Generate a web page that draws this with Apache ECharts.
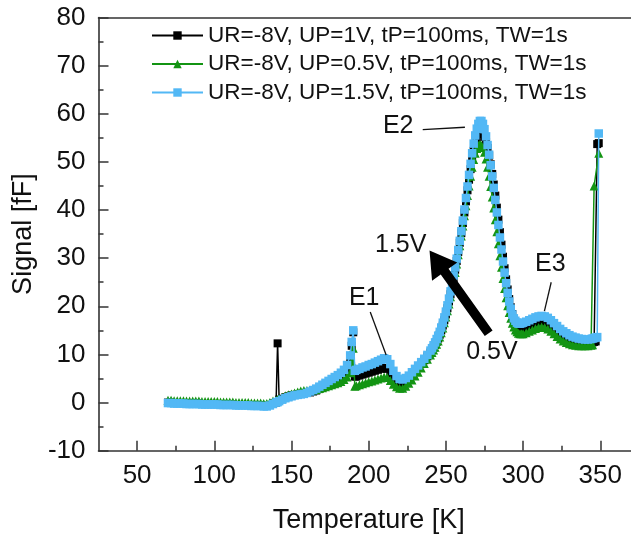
<!DOCTYPE html>
<html>
<head>
<meta charset="utf-8">
<title>DLTS signal vs temperature</title>
<script src="https://cdn.jsdelivr.net/npm/echarts@6/dist/echarts.min.js"></script>
<style>
  html, body { margin: 0; padding: 0; background: #ffffff; }
  #chart { width: 631px; height: 536px; }
</style>
</head>
<body>
<div id="chart"></div>
<script>
// Temperature steps of the scans [K]
const temperature = [
  70, 72, 74, 76, 78, 80, 82, 84, 86, 88, 90, 92, 94, 96, 98, 100, 102, 104, 106, 108, 110, 112, 114, 116, 118, 120, 122, 124, 126, 128, 130,
  132, 134, 136, 138, 140, 141, 142, 144, 146, 148, 150, 152, 154, 156, 158, 160, 162, 164, 166, 168, 170, 172, 174, 176, 178, 180, 182, 184, 186, 188,
  189, 190, 191,
  192, 194, 196, 198, 200, 202, 204, 206, 208, 210, 212, 214, 216, 218, 220, 222, 224, 226, 228, 230, 232, 234, 236, 238,
  240, 241, 242, 243, 244, 245, 246, 247, 248, 249, 250, 251, 252, 253, 254, 255, 256, 257, 258, 259, 260,
  261, 262, 263, 264, 265, 266, 267, 268, 269, 270, 271, 272, 273, 274, 275, 276, 277, 278, 279, 280,
  281, 282, 283, 284, 285, 286, 287, 288, 289, 290, 291, 292, 293, 294, 295, 296, 297, 298, 299, 300,
  302, 304, 306, 308, 310, 312, 314, 316, 318, 320, 322, 324, 326, 328, 330, 332, 334, 336, 338, 340, 342, 344,
  345, 346, 347, 348, 349
];

// Signal [fF], UP = 1 V
const signalUp1V = [
  0.0, 0.0, -0.1, -0.1, -0.1, -0.1, -0.2, -0.2, -0.2, -0.2, -0.2, -0.3, -0.3, -0.3, -0.3, -0.3, -0.3, -0.4, -0.4, -0.4, -0.4, -0.4, -0.5, -0.5, -0.5, -0.5, -0.5, -0.6, -0.6, -0.6, -0.6,
  -0.7, -0.7, -0.5, -0.2, 0.0, 12.3, 0.6, 0.8, 1.1, 1.3, 1.5, 1.6, 1.7, 1.8, 1.9, 2.0, 2.1, 2.3, 2.5, 2.8, 3.1, 3.5, 3.9, 4.3, 4.7, 5.1, 5.6, 6.2, 7.0, 8.6,
  11.8, 14.6, 5.4,
  5.4, 5.6, 5.8, 6.0, 6.2, 6.4, 6.6, 6.8, 7.0, 7.2, 7.0, 6.1, 5.0, 4.3, 3.9, 3.9, 4.3, 4.9, 5.6, 6.4, 7.2, 8.0, 8.8, 9.6,
  10.4, 10.9, 11.4, 12.0, 12.6, 13.3, 14.1, 15.0, 16.0, 17.1, 18.3, 19.6, 21.0, 22.5, 24.1, 25.8, 27.6, 29.4, 31.3, 33.2, 35.2,
  37.3, 39.5, 41.8, 44.1, 46.3, 48.5, 50.5, 52.3, 53.8, 55.0, 55.8, 56.2, 56.1, 55.8, 55.2, 54.2, 52.9, 51.3, 49.5, 47.5,
  45.3, 43.0, 40.5, 38.0, 35.4, 32.8, 30.3, 27.9, 25.6, 23.5, 21.5, 19.8, 18.4, 17.2, 16.3, 15.7, 15.4, 15.3, 15.3, 15.4,
  15.7, 16.0, 16.3, 16.6, 16.8, 16.9, 16.8, 16.5, 16.0, 15.4, 14.8, 14.2, 13.7, 13.3, 13.0, 12.8, 12.6, 12.5, 12.4, 12.4, 12.4, 12.5,
  12.5, 12.6, 12.7, 53.7, 53.9
];

// Signal [fF], UP = 0.5 V (no readings at 347 K and 348 K)
const signalUp05V = [
  0.5, 0.5, 0.4, 0.4, 0.4, 0.4, 0.3, 0.3, 0.3, 0.3, 0.3, 0.2, 0.2, 0.2, 0.2, 0.2, 0.2, 0.1, 0.1, 0.1, 0.1, 0.1, 0.0, 0.0, 0.0, 0.0, 0.0, -0.1, -0.1, -0.1, -0.1,
  -0.2, -0.2, 0.0, 0.3, 0.5, 0.6, 0.8, 1.1, 1.4, 1.6, 1.8, 2.0, 2.2, 2.4, 2.5, 2.5, 2.5, 2.6, 2.7, 2.9, 3.1, 3.3, 3.5, 3.7, 3.9, 4.1, 4.4, 4.8, 5.3, 6.2,
  8.5, 11.3, 3.4,
  3.5, 3.7, 3.9, 4.1, 4.3, 4.5, 4.7, 4.9, 5.1, 5.3, 5.2, 4.6, 3.8, 3.3, 3.0, 3.0, 3.4, 4.0, 4.7, 5.5, 6.3, 7.2, 8.1, 9.0,
  9.9, 10.4, 10.9, 11.5, 12.1, 12.8, 13.6, 14.5, 15.5, 16.6, 17.8, 19.1, 20.5, 22.0, 23.6, 25.3, 27.0, 28.8, 30.7, 32.6, 34.6,
  36.7, 38.8, 40.9, 43.0, 45.0, 47.0, 48.9, 50.5, 51.8, 52.8, 53.4, 53.6, 53.4, 53.0, 52.0, 50.6, 48.9, 47.0, 44.9, 42.7,
  40.4, 38.0, 35.5, 33.0, 30.5, 28.1, 25.8, 23.7, 21.8, 20.1, 18.7, 17.5, 16.5, 15.7, 15.1, 14.7, 14.4, 14.3, 14.3, 14.3,
  14.5, 14.8, 15.1, 15.4, 15.6, 15.7, 15.6, 15.3, 14.8, 14.3, 13.7, 13.2, 12.8, 12.5, 12.2, 12.0, 11.9, 11.8, 11.8, 11.8, 11.8, 11.9,
  12.0, 45.0, null, null, 51.8
];

// Signal [fF], UP = 1.5 V
const signalUp15V = [
  -0.1, -0.1, -0.2, -0.2, -0.2, -0.2, -0.3, -0.3, -0.3, -0.3, -0.3, -0.4, -0.4, -0.4, -0.4, -0.4, -0.4, -0.5, -0.5, -0.5, -0.5, -0.5, -0.6, -0.6, -0.6, -0.6, -0.6, -0.7, -0.7, -0.7, -0.7,
  -0.8, -0.8, -0.6, -0.3, 0.0, 0.1, 0.3, 0.6, 0.9, 1.1, 1.3, 1.5, 1.6, 1.7, 1.8, 2.0, 2.3, 2.6, 2.9, 3.3, 3.7, 4.1, 4.5, 4.9, 5.3, 5.7, 6.2, 6.8, 7.8, 9.8,
  12.6, 15.0, 6.6,
  6.8, 7.0, 7.3, 7.5, 7.8, 8.0, 8.3, 8.6, 8.9, 9.2, 9.0, 8.0, 6.6, 5.5, 4.9, 4.8, 5.1, 5.6, 6.3, 7.0, 7.7, 8.4, 9.1, 9.9,
  10.8, 11.3, 11.9, 12.5, 13.2, 13.9, 14.7, 15.6, 16.6, 17.7, 18.9, 20.2, 21.6, 23.1, 24.7, 26.4, 28.1, 29.9, 31.7, 33.6, 35.6,
  37.8, 40.1, 42.5, 44.9, 47.3, 49.6, 51.8, 53.8, 55.5, 56.9, 57.9, 58.5, 58.5, 57.9, 56.8, 55.3, 53.5, 51.5, 49.3, 47.0,
  44.6, 42.1, 39.5, 36.9, 34.3, 31.8, 29.3, 27.0, 24.8, 22.8, 21.0, 19.5, 18.3, 17.5, 17.0, 16.6, 16.4, 16.4, 16.5, 16.6,
  16.8, 17.1, 17.4, 17.7, 17.9, 18.0, 17.9, 17.6, 17.1, 16.5, 15.9, 15.3, 14.8, 14.4, 14.0, 13.7, 13.5, 13.3, 13.2, 13.1, 13.1, 13.2,
  13.3, 13.4, 13.5, 13.6, 55.9
];

const seriesNames = [
  'UR=-8V, UP=1V, tP=100ms, TW=1s',
  'UR=-8V, UP=0.5V, tP=100ms, TW=1s',
  'UR=-8V, UP=1.5V, tP=100ms, TW=1s'
];

const xTickValues = [50, 100, 150, 200, 250, 300, 350];
const xMinorTickValues = [75, 125, 175, 225, 275, 325];

// Annotation anchors in data units [T, signal]
const peakLabels = [
  { text: 'E1', at: [197.1, 21.7], from: [201.0, 18.8], to: [211.3, 9.9] },
  { text: 'E2', at: [219.1, 57.4], from: [235.0, 56.7], to: [262.3, 57.2] },
  { text: 'E3', at: [317.6, 28.8], from: [318.2, 25.0], to: [313.8, 19.0] }
];
const arrowTail = [277.7, 14.4];
const arrowTip = [239.4, 31.6];
const arrowLabels = [
  { text: '1.5V', at: [220.7, 32.8] },
  { text: '0.5V', at: [279.8, 10.4] }
];

const FONT = '"Liberation Sans", Arial, sans-serif';
const AXIS_COLOR = '#333333';
const TEXT_COLOR = '#111111';

function toPairs(values) {
  return temperature.map((t, i) => [t, values[i]]);
}

const chart = echarts.init(document.getElementById('chart'), null, { renderer: 'canvas' });

const styles = [
  { color: '#000000', symbol: 'rect', size: 8 },
  { color: '#139413', symbol: 'triangle', size: 9 },
  { color: '#52b8f5', symbol: 'rect', size: 8.5 }
];
const datasets = [signalUp1V, signalUp05V, signalUp15V];

const option = {
  animation: false,
  backgroundColor: '#ffffff',
  grid: {
    left: 98.5,
    top: 17.5,
    width: 540.4,
    height: 433.2,
    containLabel: false,
    outerBoundsMode: 'none'
  },
  legend: {
    orient: 'vertical',
    left: 151,
    top: 24,
    padding: 0,
    itemWidth: 51,
    itemHeight: 10.5,
    itemGap: 5.5,
    selectedMode: false,
    textStyle: { fontSize: 22.5, lineHeight: 22, color: TEXT_COLOR, fontFamily: FONT },
    data: seriesNames
  },
  xAxis: [
    {
      type: 'value',
      min: 25,
      max: 375,
      position: 'bottom',
      axisLine: { show: true, onZero: false, lineStyle: { color: AXIS_COLOR, width: 1.6 } },
      axisTick: { show: true, inside: true, length: 10, customValues: xTickValues, lineStyle: { color: AXIS_COLOR, width: 1.5 } },
      axisLabel: { show: true, customValues: xTickValues, fontSize: 26, color: TEXT_COLOR, fontFamily: FONT, margin: 12 },
      splitLine: { show: false },
      name: 'Temperature [K]',
      nameLocation: 'middle',
      nameGap: 56,
      nameTextStyle: { fontSize: 27, color: TEXT_COLOR, fontFamily: FONT }
    },
    {
      type: 'value',
      min: 25,
      max: 375,
      position: 'bottom',
      axisLine: { show: false, onZero: false },
      axisTick: { show: true, inside: true, length: 5, customValues: xMinorTickValues, lineStyle: { color: AXIS_COLOR, width: 1.5 } },
      axisLabel: { show: false },
      splitLine: { show: false }
    },
    {
      type: 'value',
      min: 25,
      max: 375,
      position: 'top',
      axisLine: { show: true, onZero: false, lineStyle: { color: AXIS_COLOR, width: 1.6 } },
      axisTick: { show: false },
      axisLabel: { show: false },
      splitLine: { show: false }
    }
  ],
  yAxis: {
    type: 'value',
    min: -10,
    max: 80,
    interval: 10,
    axisLine: { show: true, onZero: false, lineStyle: { color: AXIS_COLOR, width: 1.6 } },
    axisTick: { show: true, inside: true, length: 10, lineStyle: { color: AXIS_COLOR, width: 1.5 } },
    minorTick: { show: true, splitNumber: 2, length: 5, lineStyle: { color: AXIS_COLOR, width: 1.5 } },
    axisLabel: { fontSize: 26, color: TEXT_COLOR, fontFamily: FONT, margin: 13 },
    splitLine: { show: false },
    minorSplitLine: { show: false },
    name: 'Signal [fF]',
    nameLocation: 'middle',
    nameGap: 53,
    nameRotate: 90,
    nameTextStyle: { fontSize: 27, color: TEXT_COLOR, fontFamily: FONT }
  },
  series: datasets.map((vals, i) => ({
    name: seriesNames[i],
    type: 'line',
    xAxisIndex: 0,
    yAxisIndex: 0,
    data: toPairs(vals),
    connectNulls: true,
    showAllSymbol: true,
    symbol: styles[i].symbol,
    symbolSize: styles[i].size,
    silent: true,
    lineStyle: { color: styles[i].color, width: 1.5 },
    itemStyle: { color: styles[i].color, borderWidth: 0 },
    emphasis: { disabled: true },
    z: 2 + i
  }))
};

chart.setOption(option);

// Annotations are placed through the chart's own coordinate system
function px(p) {
  return chart.convertToPixel({ xAxisIndex: 0, yAxisIndex: 0 }, p);
}

const graphics = [];
peakLabels.forEach(lb => {
  const c = px(lb.at), a = px(lb.from), b = px(lb.to);
  graphics.push({
    type: 'line', silent: true, z: 20,
    shape: { x1: a[0], y1: a[1], x2: b[0], y2: b[1] },
    style: { stroke: TEXT_COLOR, lineWidth: 1.3 }
  });
  graphics.push({
    type: 'text', silent: true, z: 20,
    style: { text: lb.text, x: c[0], y: c[1], fill: TEXT_COLOR, fontSize: 25, fontFamily: FONT, align: 'center', verticalAlign: 'middle' }
  });
});

arrowLabels.forEach(lb => {
  const c = px(lb.at);
  graphics.push({
    type: 'text', silent: true, z: 20,
    style: { text: lb.text, x: c[0], y: c[1], fill: TEXT_COLOR, fontSize: 25, fontFamily: FONT, align: 'center', verticalAlign: 'middle' }
  });
});

(function addArrow() {
  const t = px(arrowTail), h = px(arrowTip);
  const dx = h[0] - t[0], dy = h[1] - t[1];
  const len = Math.hypot(dx, dy);
  const ux = dx / len, uy = dy / len;
  const nx = -uy, ny = ux;
  const headLen = 26, headHalf = 15.5, shaftHalf = 4.8;
  const bx = h[0] - ux * headLen, by = h[1] - uy * headLen;
  const pts = [
    [t[0] + nx * shaftHalf, t[1] + ny * shaftHalf],
    [bx + nx * shaftHalf, by + ny * shaftHalf],
    [bx + nx * headHalf, by + ny * headHalf],
    [h[0], h[1]],
    [bx - nx * headHalf, by - ny * headHalf],
    [bx - nx * shaftHalf, by - ny * shaftHalf],
    [t[0] - nx * shaftHalf, t[1] - ny * shaftHalf]
  ];
  graphics.push({
    type: 'polygon', silent: true, z: 20,
    shape: { points: pts },
    style: { fill: '#000000' }
  });
})();

chart.setOption({ graphic: graphics });
</script>
</body>
</html>
